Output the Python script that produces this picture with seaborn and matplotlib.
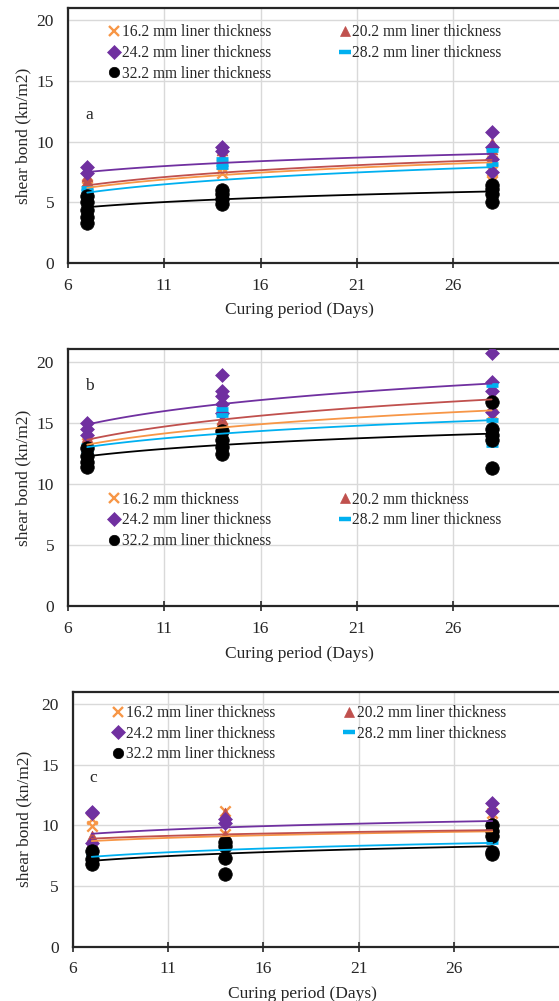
import numpy as np
import pandas as pd
import matplotlib
matplotlib.use("Agg")
import matplotlib.pyplot as plt
import seaborn as sns
from matplotlib.lines import Line2D

sns.set_theme(style="white")
plt.rcParams["font.family"] = ["Liberation Serif", "DejaVu Serif"]

# ---------------- data ----------------
days = [7, 14, 28]
thickness = ["16.2", "20.2", "24.2", "28.2", "32.2"]

# panel a : replicate values at 7, 14, 28 days
a_162 = [[6.0, 6.5, 7.0], [7.4, 7.8, 8.2], [6.8, 7.6, 8.4, 9.0]]
a_202 = [[6.3, 6.8, 7.2], [8.4, 8.8, 9.3], [8.6, 9.4, 9.9]]
a_242 = [[7.4, 7.9], [9.2, 9.6], [7.5, 8.6, 9.6, 10.8]]
a_282 = [[5.9, 6.2], [7.9, 8.2, 8.6], [8.2, 9.3]]
a_322 = [[3.3, 3.8, 4.4, 5.0, 5.5], [4.9, 5.3, 5.7, 6.0], [5.0, 5.7, 6.1, 6.4]]
# panel b
b_162 = [[12.8, 13.3], [14.5, 15.3], [15.0, 15.7, 16.2]]
b_202 = [[13.3, 13.8], [14.8, 15.3], [16.2, 17.3]]
b_242 = [[14.0, 14.5, 15.0], [15.8, 16.5, 17.2, 17.6, 18.9], [15.9, 17.6, 18.3, 20.7]]
b_282 = [[12.5, 13.2], [15.6, 16.1], [13.2, 15.2, 18.1]]
b_322 = [[11.4, 11.8, 12.3, 12.9], [12.4, 13.0, 13.6, 14.3], [11.3, 13.6, 14.0, 14.5, 16.7]]
# panel c
c_162 = [[9.9, 10.5], [9.3, 11.2], [9.5, 11.0]]
c_202 = [[8.6, 9.1], [9.2, 11.0], [10.5, 11.5]]
c_242 = [[8.5, 11.0, 11.1], [10.2, 10.5], [11.2, 11.8]]
c_282 = [[7.6], [8.3], [8.6]]
c_322 = [[6.8, 7.2, 7.9], [6.0, 7.3, 8.3, 8.6], [7.6, 7.8, 9.1, 9.5, 10.0]]

# logarithmic trend lines: value at 7 days and at 28 days
a_trend = [(6.2, 8.3), (6.4, 8.5), (7.5, 9.0), (5.8, 7.9), (4.6, 5.9)]
b_trend = [(13.2, 16.0), (13.6, 16.9), (14.85, 18.2), (13.0, 15.2), (12.25, 14.1)]
c_trend = [(8.7, 9.5), (8.9, 9.6), (9.3, 10.35), (7.4, 8.55), (7.07, 8.27)]

a_labels = ["16.2 mm liner thickness", "20.2 mm liner thickness", "24.2 mm liner thickness",
            "28.2 mm liner thickness", "32.2 mm liner thickness"]
b_labels = ["16.2 mm thickness", "20.2 mm thickness", "24.2 mm liner thickness",
            "28.2 mm liner thickness", "32.2 mm liner thickness"]
c_labels = a_labels

# ---------------- styles ----------------
colors = ["#F79646", "#C0504D", "#7030A0", "#00B0F0", "#000000"]
markers = ["x", "^", "D", "_", "o"]
sizes = [55, 60, 50, 65, 95]

W, H = 559, 1001
fig = plt.figure(figsize=(W / 100, H / 100), dpi=100)


def px_axes(left, top, bottom):
    return fig.add_axes([left / W, 1 - bottom / H, 1 - left / W, (bottom - top) / H])


panels = [
    (px_axes(68, 8.3, 263), [a_162, a_202, a_242, a_282, a_322], a_trend, a_labels, "a", (7.1, 12.2), 0.98, -0.075),
    (px_axes(68, 349.3, 606), [b_162, b_202, b_242, b_282, b_322], b_trend, b_labels, "b", (7.1, 18.0), 0.488, -0.075),
    (px_axes(72.7, 691.7, 946.7), [c_162, c_202, c_242, c_282, c_322], c_trend, c_labels, "c", (7.1, 13.9), 0.99, -0.082),
]

for ax, series, trends, labels, tag, tagpos, legy, ylx in panels:
    for i, s in enumerate(series):
        rows = [(d, v) for d, vals in zip(days, s) for v in vals]
        df = pd.DataFrame(rows, columns=["day", "bond"])
        kw = dict(color=colors[i], s=sizes[i], zorder=3)
        if markers[i] in ("x", "_"):
            kw["linewidth"] = 1.7 if markers[i] == "x" else 3.4
        else:
            kw["edgecolor"] = colors[i]
            kw["linewidth"] = 0.5
        sns.scatterplot(data=df, x="day", y="bond", marker=markers[i], ax=ax, legend=False, **kw)
    for i, (y7, y28) in enumerate(trends):
        slope = (y28 - y7) / np.log(28 / 7)
        xs = np.linspace(7, 28, 60)
        ys = y7 + slope * np.log(xs / 7)
        sns.lineplot(x=xs, y=ys, color=colors[i], linewidth=1.3, ax=ax, zorder=4, legend=False)

    ax.set_xlim(6, 31.5)
    ax.set_ylim(0, 21)
    ax.set_xticks([6, 11, 16, 21, 26])
    ax.set_yticks([0, 5, 10, 15, 20])
    ax.grid(True, color="#D9D9D9", linewidth=1.0)
    ax.set_axisbelow(True)
    for sp in ["left", "bottom", "top"]:
        ax.spines[sp].set_color("#262626")
        ax.spines[sp].set_linewidth(1.6)
    ax.spines["right"].set_visible(False)
    ax.tick_params(axis="x", direction="inout", length=7, width=1.2, color="#262626",
                   pad=7, labelsize=12.5, labelcolor="#262626", bottom=True)
    ax.tick_params(axis="y", length=0, pad=10, labelsize=12.5, labelcolor="#262626")
    ax.set_xlabel("Curing period (Days)", fontsize=12.5, color="#262626")
    ax.xaxis.set_label_coords(0.472, -0.155)
    ax.set_ylabel("shear bond (kn/m2)", fontsize=12.5, color="#262626")
    ax.yaxis.set_label_coords(ylx, 0.5)
    ax.text(tagpos[0], tagpos[1], tag, fontsize=12.5, color="#262626", ha="center", va="center")

    handles = [Line2D([], [], linestyle="none", marker=markers[i], color=colors[i],
                      markersize=7.5 if markers[i] != "_" else 8.5,
                      markeredgewidth=1.7 if markers[i] == "x" else (3.2 if markers[i] == "_" else 0.5))
               for i in range(5)]
    order = [0, 2, 4, 1, 3]
    leg = ax.legend([handles[k] for k in order], [labels[k] for k in order],
                    ncol=2, loc="upper left", bbox_to_anchor=(0.06, legy),
                    frameon=False, fontsize=11.2, handlelength=0.7, handletextpad=0.15,
                    columnspacing=4.4, labelspacing=0.3, borderpad=0.2)
    for t in leg.get_texts():
        t.set_color("#262626")

fig.savefig("out.png", dpi=100)
